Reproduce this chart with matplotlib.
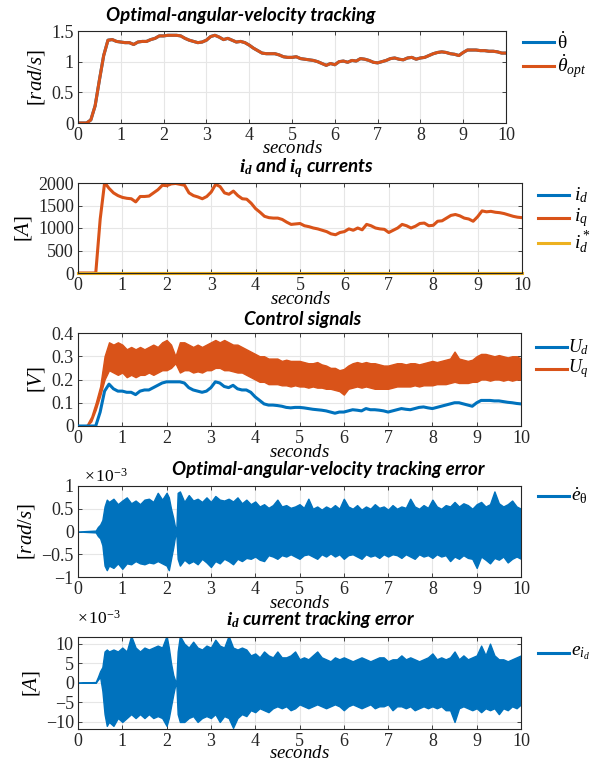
import matplotlib
matplotlib.use("Agg")
import matplotlib.pyplot as plt
from matplotlib.lines import Line2D
import numpy as np

# ---- data (0.1 s grid unless noted) ----
t = np.linspace(0, 10, 101)

# angular velocity [rad/s] (theta_dot and theta_dot_opt overlap)
w_opt = [0, 0, 0.0, 0.05, 0.28, 0.70, 1.10, 1.35, 1.36, 1.33,
         1.32, 1.31, 1.31, 1.28, 1.32, 1.33, 1.33, 1.36, 1.38, 1.42,
         1.42, 1.43, 1.43, 1.43, 1.42, 1.38, 1.35, 1.33, 1.31, 1.32,
         1.35, 1.41, 1.43, 1.40, 1.36, 1.38, 1.35, 1.32, 1.33, 1.31,
         1.27, 1.22, 1.18, 1.14, 1.13, 1.13, 1.13, 1.11, 1.08, 1.07,
         1.07, 1.08, 1.05, 1.04, 1.03, 1.02, 1.00, 0.97, 0.94, 0.97,
         0.95, 1.00, 1.01, 0.99, 1.02, 1.01, 1.05, 1.04, 1.02, 0.99,
         0.98, 1.00, 1.02, 1.05, 1.06, 1.04, 1.03, 1.06, 1.07, 1.04,
         1.06, 1.07, 1.10, 1.13, 1.15, 1.16, 1.15, 1.13, 1.12, 1.10,
         1.15, 1.19, 1.19, 1.19, 1.18, 1.18, 1.17, 1.17, 1.16, 1.14,
         1.14]

# q-axis current [A]
i_q = [0, 0, 0, 0, 0, 1200, 2010, 1880, 1780, 1720,
       1680, 1660, 1650, 1580, 1700, 1700, 1710, 1780, 1850, 1950,
       1940, 1980, 1990, 1970, 1950, 1780, 1720, 1690, 1650, 1700,
       1800, 1970, 1920, 1780, 1750, 1820, 1720, 1650, 1640, 1550,
       1430, 1350, 1260, 1230, 1220, 1220, 1190, 1130, 1080, 1090,
       1100, 1050, 1030, 1000, 980, 950, 920, 870, 850, 900,
       920, 980, 950, 1000, 960, 1080, 1050, 1000, 980, 970,
       900, 950, 1000, 1080, 1050, 1000, 1040, 1100, 1110, 1050,
       1060, 1150, 1160, 1220, 1280, 1300, 1270, 1220, 1200, 1150,
       1250, 1380, 1360, 1370, 1350, 1340, 1320, 1290, 1260, 1240,
       1230]

# d-axis voltage [V]
u_d = [0, 0, 0, 0, 0, 0.06, 0.15, 0.18, 0.16, 0.15,
       0.15, 0.145, 0.145, 0.135, 0.15, 0.155, 0.155, 0.165, 0.175, 0.185,
       0.19, 0.19, 0.19, 0.19, 0.185, 0.165, 0.155, 0.15, 0.145, 0.15,
       0.165, 0.19, 0.185, 0.17, 0.165, 0.175, 0.16, 0.155, 0.155, 0.145,
       0.125, 0.11, 0.095, 0.09, 0.09, 0.088, 0.085, 0.08, 0.078, 0.08,
       0.08, 0.078, 0.075, 0.072, 0.07, 0.068, 0.065, 0.06, 0.055, 0.06,
       0.06, 0.065, 0.07, 0.068, 0.065, 0.075, 0.07, 0.07, 0.068, 0.065,
       0.06, 0.065, 0.07, 0.075, 0.072, 0.07, 0.075, 0.08, 0.082, 0.078,
       0.075, 0.08, 0.085, 0.09, 0.095, 0.1, 0.1, 0.095, 0.09, 0.085,
       0.1, 0.11, 0.11, 0.11, 0.108, 0.108, 0.105, 0.102, 0.1, 0.097,
       0.095]

# q-axis voltage band (noisy) upper / lower envelope [V]
u_q_hi = [0, 0, 0.005, 0.04, 0.10, 0.17, 0.30, 0.36, 0.35, 0.36,
          0.35, 0.33, 0.34, 0.33, 0.34, 0.33, 0.34, 0.35, 0.34, 0.36,
          0.37, 0.35, 0.30, 0.36, 0.36, 0.35, 0.34, 0.35, 0.34, 0.35,
          0.36, 0.37, 0.36, 0.37, 0.36, 0.35, 0.35, 0.34, 0.33, 0.32,
          0.31, 0.30, 0.30, 0.29, 0.29, 0.29, 0.28, 0.285, 0.28, 0.28,
          0.28, 0.275, 0.27, 0.27, 0.275, 0.265, 0.26, 0.25, 0.25, 0.24,
          0.245, 0.26, 0.27, 0.275, 0.27, 0.275, 0.27, 0.27, 0.265, 0.26,
          0.26, 0.265, 0.27, 0.27, 0.265, 0.27, 0.27, 0.265, 0.27, 0.275,
          0.28, 0.275, 0.28, 0.285, 0.29, 0.32, 0.29, 0.285, 0.28, 0.285,
          0.30, 0.31, 0.31, 0.305, 0.30, 0.305, 0.30, 0.295, 0.30, 0.30,
          0.29]
u_q_lo = [0, 0, 0, 0.02, 0.07, 0.13, 0.20, 0.24, 0.23, 0.22,
          0.23, 0.21, 0.22, 0.21, 0.22, 0.22, 0.23, 0.22, 0.23, 0.24,
          0.24, 0.25, 0.27, 0.23, 0.24, 0.24, 0.23, 0.235, 0.23, 0.24,
          0.24, 0.25, 0.25, 0.24, 0.24, 0.235, 0.23, 0.23, 0.22, 0.21,
          0.20, 0.19, 0.19, 0.18, 0.18, 0.18, 0.175, 0.175, 0.17, 0.175,
          0.17, 0.17, 0.165, 0.17, 0.165, 0.165, 0.16, 0.16, 0.155, 0.15,
          0.135, 0.16, 0.165, 0.17, 0.165, 0.17, 0.165, 0.16, 0.16, 0.16,
          0.16, 0.165, 0.17, 0.17, 0.17, 0.17, 0.175, 0.17, 0.175, 0.175,
          0.175, 0.18, 0.18, 0.18, 0.185, 0.19, 0.185, 0.185, 0.185, 0.19,
          0.19, 0.20, 0.20, 0.195, 0.20, 0.20, 0.195, 0.20, 0.195, 0.20,
          0.20]

# tracking errors: envelope of the oscillation, in units of 1e-3
t_err_early = [0, 0.4, 0.45, 0.5, 0.55, 0.6, 0.65, 0.7, 0.8, 0.9,
               1.0, 1.1, 1.2, 1.3, 1.4, 1.5, 1.6, 1.7, 1.8, 1.9,
               2.0, 2.05, 2.1, 2.15, 2.2, 2.22, 2.25, 2.3]
e_w_hi_early = [0, 0.02, 0.1, 0.15, 0.25, 0.55, 0.7, 0.65, 0.72, 0.6,
                0.68, 0.75, 0.62, 0.68, 0.6, 0.7, 0.72, 0.65, 0.85, 0.7,
                0.85, 0.75, 0.5, 0.3, 0.05, 0.05, 0.85, 0.88]
e_w_lo_early = [0, -0.02, -0.1, -0.15, -0.3, -0.75, -0.85, -0.75, -0.8, -0.7,
                -0.82, -0.7, -0.72, -0.65, -0.7, -0.72, -0.68, -0.7, -0.65, -0.7,
                -0.75, -0.85, -0.6, -0.35, -0.05, -0.05, -0.6, -0.75]
e_w_hi_late = [0.65, 0.80, 0.68, 0.72, 0.65, 0.75, 0.65, 0.78, 0.70, 0.68,
               0.72, 0.66, 0.75, 0.62, 0.70, 0.60, 0.66, 0.55, 0.60, 0.52,
               0.58, 0.70, 0.55, 0.58, 0.52, 0.55, 0.60, 0.52, 0.72, 0.50,
               0.55, 0.48, 0.55, 0.50, 0.58, 0.50, 0.72, 0.55, 0.50, 0.58,
               0.48, 0.55, 0.50, 0.60, 0.52, 0.55, 0.48, 0.58, 0.50, 0.55,
               0.52, 0.72, 0.55, 0.50, 0.58, 0.52, 0.70, 0.55, 0.50, 0.58,
               0.55, 0.65, 0.55, 0.62, 0.58, 0.50, 0.60, 0.65, 0.55, 0.60,
               0.88, 0.62, 0.55, 0.60, 0.68, 0.55, 0.50]
e_w_lo_late = [-0.62, -0.70, -0.65, -0.72, -0.60, -0.68, -0.78, -0.65, -0.70, -0.60,
               -0.65, -0.72, -0.60, -0.65, -0.58, -0.60, -0.55, -0.62, -0.65, -0.52,
               -0.55, -0.60, -0.52, -0.55, -0.50, -0.55, -0.60, -0.52, -0.50, -0.55,
               -0.60, -0.50, -0.55, -0.48, -0.55, -0.50, -0.60, -0.52, -0.50, -0.55,
               -0.60, -0.50, -0.55, -0.52, -0.58, -0.50, -0.55, -0.50, -0.52, -0.58,
               -0.50, -0.55, -0.60, -0.50, -0.55, -0.52, -0.58, -0.50, -0.55, -0.52,
               -0.65, -0.55, -0.60, -0.52, -0.58, -0.60, -0.80, -0.55, -0.62, -0.70,
               -0.58, -0.62, -0.55, -0.68, -0.60, -0.55, -0.60]

e_id_hi_early = [0, 0.2, 1.5, 3, 4, 8, 8.5, 8, 8.5, 8,
                 9, 8, 12, 9, 8, 9, 8.5, 9, 9.5, 9,
                 12, 9, 5, 2, 0.3, 0.3, 8, 12]
e_id_lo_early = [0, 0, 0.8, 1.5, -2, -8, -11, -10, -11, -9,
                 -10, -9, -8, -9, -8, -9, -8, -9, -8.5, -9,
                 -11, -9, -6, -3, -0.3, -0.3, -8, -10]
e_id_hi_late = [10, 9, 10.5, 9, 8.5, 9.5, 9, 11, 9.5, 9,
                12, 9, 8.5, 9, 8.5, 7, 7.5, 6.5, 8, 7,
                6.5, 8, 6.5, 6.5, 7, 8, 6, 6.5, 6, 7,
                8, 6.5, 6, 5.5, 6.5, 6, 6.5, 6, 5.5, 6,
                6.5, 6, 5.5, 6, 6.5, 6.5, 5.5, 6, 6, 7,
                6, 6.5, 6, 5.5, 6, 6.5, 7.5, 6, 6.5, 6,
                6.5, 8, 6, 7, 6, 6.5, 7, 9.5, 7, 10,
                7, 6, 6, 5.5, 6, 6.5, 7]
e_id_lo_late = [-10, -9, -8.5, -10, -9, -8.5, -9, -8, -10, -8.5,
                -9, -11.5, -9, -8, -8.5, -7, -7.5, -6.5, -7, -7.5,
                -6.5, -6, -6.5, -6, -7, -6.5, -5.5, -6, -6.5, -6,
                -5.5, -6, -6.5, -6, -5.5, -6, -7, -6, -5.5, -6,
                -6.5, -6, -5.5, -6.5, -6, -6, -5.5, -7, -6, -6,
                -6.5, -6, -7, -6.5, -6, -6.5, -6, -6.5, -6, -7,
                -7, -10, -6.5, -6, -6.5, -7, -6.5, -7.5, -6.5, -7,
                -6.5, -8, -6.5, -7, -6, -6.5, -5.5]

t_err = np.array(t_err_early + list(2.4 + 0.1 * np.arange(len(e_w_hi_late))))
e_w_hi = np.array(e_w_hi_early + e_w_hi_late)
e_w_lo = np.array(e_w_lo_early + e_w_lo_late)
e_id_hi = np.array(e_id_hi_early + e_id_hi_late)
e_id_lo = np.array(e_id_lo_early + e_id_lo_late)

# ---- style ----
BLUE = "#0072BD"
ORANGE = "#D95319"
YELLOW = "#EDB120"
W, H = 591, 762

plt.rcParams['font.family'] = ['Liberation Serif', 'DejaVu Serif']
plt.rcParams['mathtext.fontset'] = 'custom'
plt.rcParams['mathtext.rm'] = 'Liberation Serif'
plt.rcParams['mathtext.it'] = 'Liberation Serif:italic'
plt.rcParams['mathtext.bf'] = 'Liberation Serif:bold:italic'
plt.rcParams['axes.linewidth'] = 0.8

TITLE_FONT = dict(family='Lato', weight='bold', style='italic', size=13.5)


def fmt(v, pos):
    s = '%g' % v
    return s.replace('-', '\u2212')


def style_axes(ax, ylim, yticks, ylabel, xpad=-2):
    ax.set_xlim(0, 10)
    ax.set_ylim(*ylim)
    ax.set_xticks(range(0, 11))
    ax.set_yticks(yticks)
    ax.xaxis.set_major_formatter(plt.FuncFormatter(fmt))
    ax.yaxis.set_major_formatter(plt.FuncFormatter(fmt))
    ax.tick_params(direction='in', length=3, width=0.6, labelsize=13,
                   top=True, right=True, pad=3, colors='#262626')
    ax.grid(True, color='#e6e6e6', lw=0.8)
    ax.set_axisbelow(True)
    for sp in ax.spines.values():
        sp.set_color('#262626')
    ax.set_xlabel(r'$seconds$', fontsize=13.5, labelpad=xpad)
    ax.set_ylabel(ylabel, fontsize=15, labelpad=3)


def add_title(text, x_px, y_px):
    fig.text(x_px / W, 1 - y_px / H, text, ha='center', va='center', **TITLE_FONT)


def add_legend(entries, x_px, ys_px, text_px, size=14):
    # MATLAB-like legend: short coloured line followed by the label
    for (color, label), y in zip(entries, ys_px):
        fig.add_artist(Line2D([x_px / W, (x_px + 31) / W], [1 - y / H, 1 - y / H],
                              color=color, lw=2.2))
        fig.text(text_px / W, 1 - y / H, label, ha='left', va='center', fontsize=size)


def axes_px(left, top, right, bottom):
    return fig.add_axes([left / W, 1 - bottom / H, (right - left) / W, (bottom - top) / H])


fig = plt.figure(figsize=(W / 100, H / 100), dpi=100)

ax1 = axes_px(78, 31, 506, 123)
ax2 = axes_px(78, 183, 522, 273)
ax3 = axes_px(78, 333, 521, 426)
ax4 = axes_px(78, 486, 521, 577)
ax5 = axes_px(78, 637, 521, 729)

# panel 1
ax1.plot(t, w_opt, color=BLUE, lw=2.2)
ax1.plot(t, w_opt, color=ORANGE, lw=2.2)
style_axes(ax1, (0, 1.5), [0, 0.5, 1, 1.5], r'$[rad/s]$', xpad=-3)
add_title('Optimal-angular-velocity tracking', 241, 15)
add_legend([(BLUE, r'$\dot{\mathrm{\theta}}$'), (ORANGE, r'$\dot{\theta}_{opt}$')],
           523, [42, 66], 557)

# panel 2
zeros = np.zeros_like(t)
ax2.plot(t, zeros, color=BLUE, lw=2.2)
ax2.plot(t, i_q, color=ORANGE, lw=2.2)
ax2.plot(t, zeros, color=YELLOW, lw=2.2, clip_on=False)
style_axes(ax2, (0, 2000), [0, 500, 1000, 1500, 2000], r'$[A]$')
add_title(r'$\mathbf{i}_\mathbf{d}$ and $\mathbf{i}_\mathbf{q}$ currents', 306, 168)
add_legend([(BLUE, r'$i_d$'), (ORANGE, r'$i_q$'), (YELLOW, r'$i_d^*$')],
           538, [195, 218, 243], 574)

# panel 3
ax3.fill_between(t, u_q_lo, u_q_hi, color=ORANGE, lw=1.0, zorder=2)
ax3.plot(t, u_d, color=BLUE, lw=2.2, zorder=3)
style_axes(ax3, (0, 0.4), [0, 0.1, 0.2, 0.3, 0.4], r'$[V]$')
add_title('Control signals', 303, 320)
add_legend([(BLUE, r'$U_d$'), (ORANGE, r'$U_q$')], 536, [347, 369], 568, size=13)

# panel 4
ax4.fill_between(t_err, e_w_lo, e_w_hi, color=BLUE, lw=1.0)
style_axes(ax4, (-1, 1), [-1, -0.5, 0, 0.5, 1], r'$[rad/s]$', xpad=-2)
add_title('Optimal-angular-velocity tracking error', 328, 470)
fig.text(84 / W, 1 - 477 / H, r'$\times\,10^{-3}$', fontsize=12.5, va='center')
add_legend([(BLUE, r'$\dot{e}_{\mathrm{\theta}}$')], 538, [496], 571)

# panel 5
ax5.fill_between(t_err, e_id_lo, e_id_hi, color=BLUE, lw=1.0)
style_axes(ax5, (-11.8, 11.7), [-10, -5, 0, 5, 10], r'$[A]$', xpad=-4)
add_title(r'$\mathbf{i}_\mathbf{d}$ current tracking error', 321, 620)
fig.text(77 / W, 1 - 619 / H, r'$\times\,10^{-3}$', fontsize=12.5, va='center')
add_legend([(BLUE, r'$e_{i_d}$')], 538, [653], 571)

fig.savefig('out.png', dpi=100)
